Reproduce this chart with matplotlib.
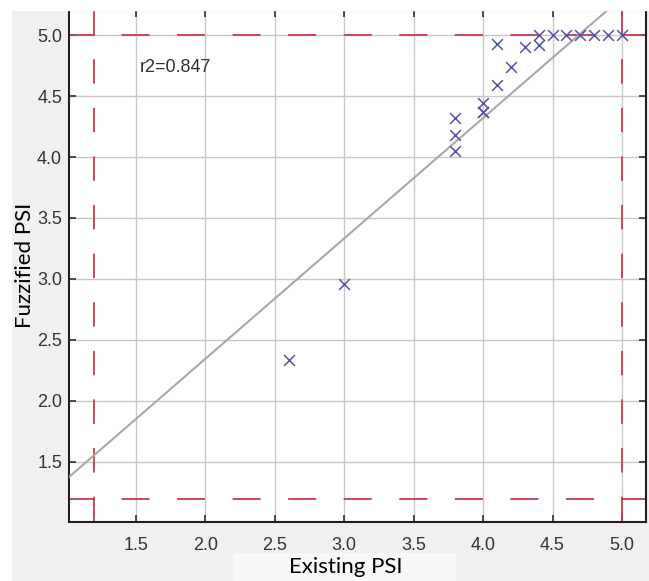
import matplotlib
matplotlib.use("Agg")
import matplotlib.pyplot as plt
from matplotlib.patches import Rectangle
import numpy as np

plt.rcParams['lines.scale_dashes'] = False

# Data
existing_psi = [2.6, 3.0, 3.8, 3.8, 3.8, 4.0, 4.0, 4.0, 4.1, 4.1, 4.2, 4.3, 4.4, 4.4,
                4.5, 4.6, 4.7, 4.8, 4.9, 5.0]
fuzzified_psi = [2.34, 2.96, 4.32, 4.18, 4.05, 4.44, 4.37, 4.37, 4.59, 4.93, 4.74, 4.90, 4.92, 5.0,
                 5.0, 5.0, 5.0, 5.0, 5.0, 5.0]
fit_slope = 0.987
fit_intercept = 0.372
limits = [1.2, 5.0]
r2_label = "r2=0.847"
x_ticks = [1.5, 2.0, 2.5, 3.0, 3.5, 4.0, 4.5, 5.0]
y_ticks = [1.5, 2.0, 2.5, 3.0, 3.5, 4.0, 4.5, 5.0]
x_label = "Existing PSI"
y_label = "Fuzzified PSI"

W, H = 649, 581
fig = plt.figure(figsize=(W / 100, H / 100), dpi=100, facecolor='#f0f0f0')

# white border strips & light patch behind x label
fig.patches.append(Rectangle((0, 0), 11 / W, 1, transform=fig.transFigure, color='white', zorder=0))
fig.patches.append(Rectangle((0, 1 - 10 / H), 1, 10 / H, transform=fig.transFigure, color='white', zorder=0))
fig.patches.append(Rectangle((233 / W, 0), (455 - 233) / W, (581 - 553) / H, transform=fig.transFigure,
                             color='#f8f8f8', zorder=0))

ax = fig.add_axes([69 / W, (H - 522) / H, (646 - 69) / W, (522 - 10) / H])
xlim = (1.018, 5.173)
ylim = (1.008, 5.205)
ax.set_xlim(*xlim)
ax.set_ylim(*ylim)

ax.set_xticks(x_ticks)
ax.set_yticks(y_ticks)
ax.set_xticklabels([f"{v:.1f}" for v in x_ticks])
ax.set_yticklabels([f"{v:.1f}" for v in y_ticks])
ax.tick_params(direction='in', top=True, right=True, length=5, width=1.2, color='#303030',
               labelsize=13, labelcolor='#333333')
ax.tick_params(axis='x', pad=11)
ax.tick_params(axis='y', pad=5)
for lab in ax.get_xticklabels() + ax.get_yticklabels():
    lab.set_fontfamily('Liberation Sans')

ax.grid(True, color='#c8c8c8', linewidth=1.0)
ax.set_axisbelow(True)
for s in ax.spines.values():
    s.set_linewidth(1.5)
    s.set_color('#202020')

red = '#c83c50'
lo, hi = limits
hdash = (20.2, (20.2, 19.8))
vdash = (17.6, (17.6, 17.4))
# horizontal lines at limits
for yv in limits:
    ax.plot([xlim[0], lo], [yv, yv], color=red, lw=1.3, zorder=2)
    ax.plot([hi, xlim[1]], [yv, yv], color=red, lw=1.3, zorder=2)
    ax.plot([lo, hi], [yv, yv], color=red, lw=1.3, linestyle=hdash, zorder=2)
for xv in limits:
    ax.plot([xv, xv], [ylim[0], lo], color=red, lw=1.3, zorder=2)
    ax.plot([xv, xv], [hi, ylim[1]], color=red, lw=1.3, zorder=2)
    ax.plot([xv, xv], [hi, lo], color=red, lw=1.3, linestyle=vdash, zorder=2)

# regression line
xs = np.array(xlim)
ax.plot(xs, fit_slope * xs + fit_intercept, color='#a8a8a8', lw=1.5, zorder=3)

ax.scatter(existing_psi, fuzzified_psi, marker='x', s=60, color='#5555a8', linewidths=1.1, zorder=4)

ax.text(1.525, 4.73, r2_label, fontsize=13, family='Liberation Sans', color='#303030', va='center', ha='left')

fig.text(346 / W, 1 - 567 / H, x_label, fontsize=16, family='Lato', color='black', ha='center', va='center')
fig.text(25 / W, 1 - 265 / H, y_label, fontsize=16, family='Lato', color='black', ha='center', va='center',
         rotation=90)

fig.savefig('out.png', dpi=100, facecolor=fig.get_facecolor())
